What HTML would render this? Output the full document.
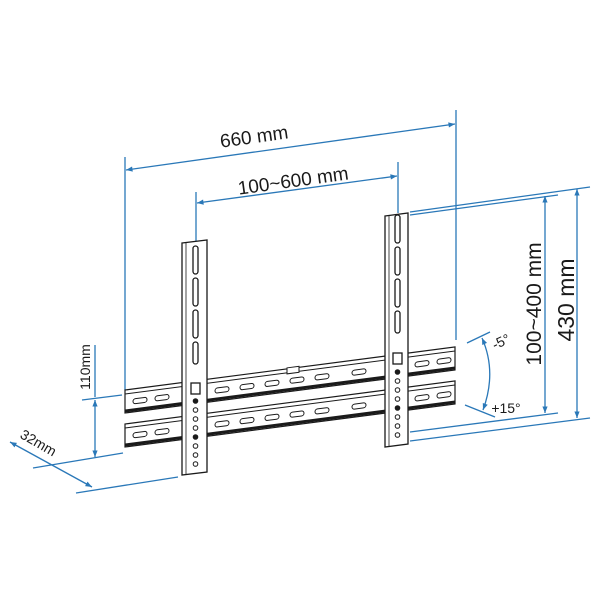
<!DOCTYPE html>
<html><head><meta charset="utf-8"><style>
html,body{margin:0;padding:0;background:#fff;width:600px;height:600px;overflow:hidden}
svg{display:block}
text{font-family:"Liberation Sans",sans-serif;fill:#1a1a1a}
</style></head><body>
<svg width="600" height="600" viewBox="0 0 600 600" xmlns="http://www.w3.org/2000/svg">
<defs>
<marker id="a" viewBox="0 0 10 10" refX="10" refY="5" markerWidth="7" markerHeight="5" orient="auto-start-reverse"><path d="M0,1 L10,5 L0,9 z" fill="#2a78b8"/></marker>
</defs>
<g stroke="#2a78b8" stroke-width="1.3" fill="none">
<line x1="125" y1="157" x2="125" y2="390"/>
<line x1="456" y1="110" x2="456" y2="340"/>
<line x1="126" y1="170" x2="455" y2="124" marker-start="url(#a)" marker-end="url(#a)"/>
<line x1="196" y1="192" x2="196" y2="242"/>
<line x1="398" y1="162" x2="398" y2="213"/>
<line x1="197" y1="203" x2="397" y2="176" marker-start="url(#a)" marker-end="url(#a)"/>
<line x1="410" y1="212" x2="590" y2="187"/>
<line x1="410" y1="215" x2="558" y2="195"/>
<line x1="410" y1="432" x2="558" y2="413"/>
<line x1="410" y1="441" x2="590" y2="418"/>
<line x1="545" y1="196" x2="545" y2="413" marker-start="url(#a)" marker-end="url(#a)"/>
<line x1="577" y1="189" x2="577" y2="418" marker-start="url(#a)" marker-end="url(#a)"/>
<line x1="467" y1="343" x2="490" y2="332"/>
<line x1="465" y1="405" x2="495" y2="417"/>
<path d="M482,338 Q497,372 483,410" marker-start="url(#a)" marker-end="url(#a)"/>
<line x1="82" y1="400" x2="122" y2="395"/>
<line x1="95" y1="345" x2="95" y2="397"/>
<line x1="95" y1="400" x2="95" y2="457" marker-start="url(#a)" marker-end="url(#a)"/>
<line x1="33" y1="468" x2="123" y2="453"/>
<line x1="76" y1="493" x2="178" y2="477"/>
<line x1="10" y1="442" x2="92" y2="487" marker-start="url(#a)" marker-end="url(#a)"/>
</g>
<!-- rails in skewed frame -->
<g transform="translate(0,16.3) skewY(-7.43)" stroke="#1a1a1a" fill="#fff">
<rect x="125" y="390" width="330" height="23" stroke-width="1.2"/>
<rect x="125" y="424" width="330" height="23" stroke-width="1.2"/>
<line x1="125" y1="394" x2="455" y2="394" stroke-width="1"/>
<line x1="125" y1="411" x2="455" y2="411" stroke-width="3"/>
<line x1="125" y1="428" x2="455" y2="428" stroke-width="1"/>
<line x1="125" y1="445" x2="455" y2="445" stroke-width="3"/>
<g stroke-width="1">
<rect x="133" y="400" width="14" height="5" rx="2.5"/><rect x="155" y="400" width="14" height="5" rx="2.5"/>
<rect x="215" y="400" width="14" height="5" rx="2.5"/><rect x="240" y="400" width="14" height="5" rx="2.5"/>
<rect x="265" y="400" width="14" height="5" rx="2.5"/><rect x="290" y="400" width="14" height="5" rx="2.5"/>
<rect x="315" y="400" width="14" height="5" rx="2.5"/><rect x="352" y="400" width="14" height="5" rx="2.5"/>
<rect x="415" y="400" width="14" height="5" rx="2.5"/><rect x="437" y="400" width="14" height="5" rx="2.5"/>
<rect x="133" y="434" width="14" height="5" rx="2.5"/><rect x="155" y="434" width="14" height="5" rx="2.5"/>
<rect x="215" y="434" width="14" height="5" rx="2.5"/><rect x="240" y="434" width="14" height="5" rx="2.5"/>
<rect x="265" y="434" width="14" height="5" rx="2.5"/><rect x="290" y="434" width="14" height="5" rx="2.5"/>
<rect x="315" y="434" width="14" height="5" rx="2.5"/><rect x="352" y="434" width="14" height="5" rx="2.5"/>
<rect x="415" y="434" width="14" height="5" rx="2.5"/><rect x="437" y="434" width="14" height="5" rx="2.5"/>
<rect x="287" y="389" width="12" height="6"/>
</g>
</g>
<!-- arms -->
<g stroke="#1a1a1a" stroke-width="1.3" fill="#fff">
<polygon points="182,243 207,240 207,472 182,475"/>
<line x1="186" y1="243" x2="186" y2="474" stroke-width="0.8"/>
<rect x="193" y="246" width="5" height="28" rx="2.5"/><rect x="193" y="278" width="5" height="28" rx="2.5"/>
<rect x="193" y="310" width="5" height="28" rx="2.5"/><rect x="193" y="342" width="5" height="22" rx="2.5"/>
<rect x="191" y="383" width="9" height="11"/>
<polygon points="385,216 408,213 408,444 385,447"/>
<line x1="389" y1="216" x2="389" y2="446" stroke-width="0.8"/>
<rect x="395" y="215" width="5" height="28" rx="2.5"/><rect x="395" y="247" width="5" height="28" rx="2.5"/>
<rect x="395" y="279" width="5" height="28" rx="2.5"/><rect x="395" y="311" width="5" height="22" rx="2.5"/>
<rect x="393" y="353" width="9" height="11"/>
</g>
<g stroke="#1a1a1a" stroke-width="1" fill="#fff">
<circle cx="195.5" cy="401" r="2.3" fill="#1a1a1a"/><circle cx="195.5" cy="410" r="2.3"/><circle cx="195.5" cy="419" r="2.3"/><circle cx="195.5" cy="428" r="2.3"/>
<circle cx="195.5" cy="437" r="2.3" fill="#1a1a1a"/><circle cx="195.5" cy="446" r="2.3"/><circle cx="195.5" cy="455" r="2.3"/><circle cx="195.5" cy="464" r="2.3"/>
<circle cx="397.5" cy="372" r="2.3" fill="#1a1a1a"/><circle cx="397.5" cy="381" r="2.3"/><circle cx="397.5" cy="390" r="2.3"/><circle cx="397.5" cy="399" r="2.3"/>
<circle cx="397.5" cy="408" r="2.3" fill="#1a1a1a"/><circle cx="397.5" cy="417" r="2.3"/><circle cx="397.5" cy="426" r="2.3"/><circle cx="397.5" cy="435" r="2.3"/>
</g>
<text x="255" y="143" font-size="19" text-anchor="middle" transform="rotate(-8 255 143)">660 mm</text>
<text x="294" y="187" font-size="19" text-anchor="middle" transform="rotate(-8 294 187)">100~600 mm</text>
<text x="541" y="304" font-size="21" text-anchor="middle" transform="rotate(-90 541 304)">100~400 mm</text>
<text x="574" y="300" font-size="23" text-anchor="middle" transform="rotate(-90 574 300)">430 mm</text>
<text x="503" y="346" font-size="14" text-anchor="middle" transform="rotate(-25 503 346)">-5°</text>
<text x="506" y="413" font-size="14" text-anchor="middle">+15°</text>
<text x="90" y="367" font-size="14" text-anchor="middle" transform="rotate(-90 90 367)">110mm</text>
<text x="36" y="447" font-size="14" text-anchor="middle" transform="rotate(30 36 447)">32mm</text>
</svg>
</body></html>
